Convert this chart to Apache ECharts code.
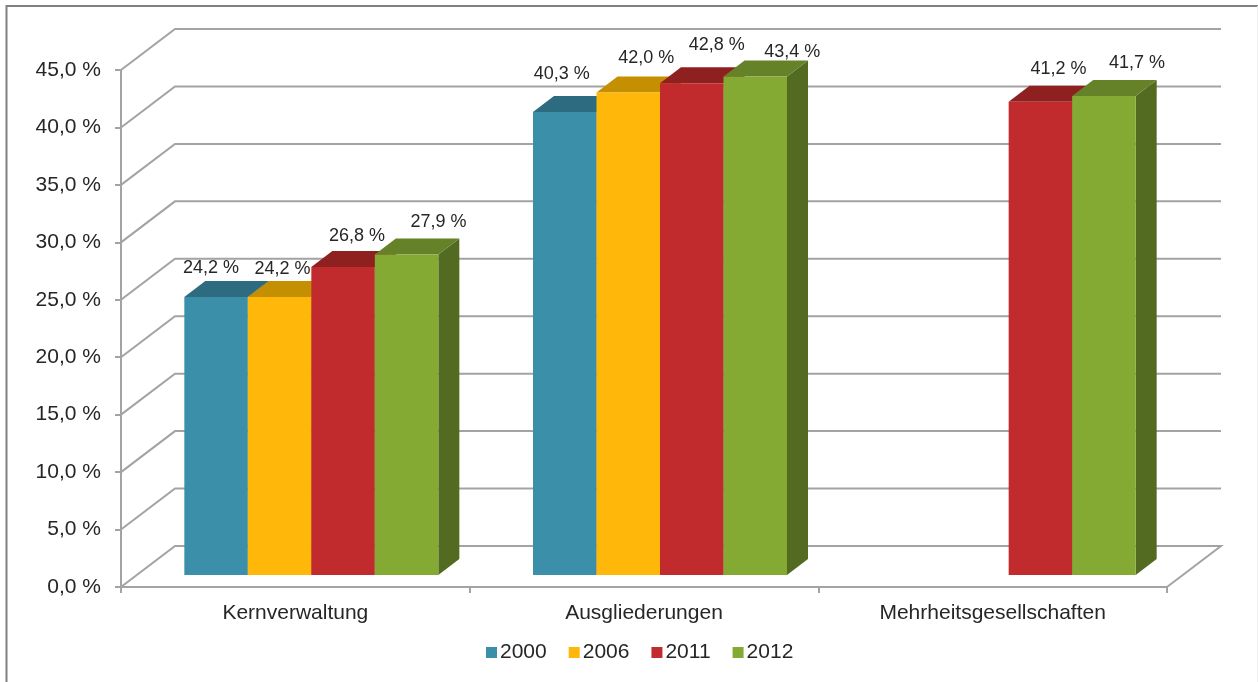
<!DOCTYPE html>
<html>
<head>
<meta charset="utf-8">
<style>html,body{margin:0;padding:0;background:#fff}#c{width:1258px;height:682px}</style>
<script src="https://cdn.jsdelivr.net/npm/echarts@6/dist/echarts.min.js"></script>
</head>
<body>
<div id="c"></div>
<script>
var categories = ['Kernverwaltung', 'Ausgliederungen', 'Mehrheitsgesellschaften'];
var years = ['2000', '2006', '2011', '2012'];
var values2000 = [24.2, 40.3, null];
var values2006 = [24.2, 42.0, null];
var values2011 = [26.8, 42.8, 41.2];
var values2012 = [27.9, 43.4, 41.7];
var yTicks = [0, 5, 10, 15, 20, 25, 30, 35, 40, 45];

var labelNudge = {
  '2000': [[-5, -29], [-3, -38], null],
  '2006': [[3, -28], [18, -34], null],
  '2011': [[14, -31], [25, -38], [18, -33]],
  '2012': [[32, -32], [37, -24], [33, -33]]
};
var faces = [
  {front: '#3b8fa8', top: '#2c6b80', side: '#25596b'},
  {front: '#ffb80a', top: '#c48f00', side: '#a87a00'},
  {front: '#c22b2e', top: '#8f2020', side: '#7a1b1b'},
  {front: '#84aa33', top: '#668228', side: '#536a21'}
];
var FONT = '"Liberation Sans", Arial, sans-serif';
var TEXT = '#262626';
var GRID = '#a3a3a3';
var WALL_DX = 54, WALL_DY = 41;
var BAR_W = 63.5, BAR_DX = 21, BAR_DY = 16, BAR_FX = 16, BAR_FY = 12;

function fmt(v) { return v.toFixed(1).replace('.', ',') + ' %'; }

function wallItem(params, api) {
  var v = api.value(0);
  var p = api.coord([0, v]);
  var cs = params.coordSys;
  var x0 = cs.x, x1 = cs.x + cs.width, y = p[1];
  var lineStyle = {stroke: GRID, lineWidth: 2, fill: null};
  var pts = [[x0, y], [x0 + WALL_DX, y - WALL_DY], [x1 + WALL_DX, y - WALL_DY]];
  if (v === 0) pts.push([x1, y]);
  return {type: 'polyline', shape: {points: pts}, style: lineStyle, silent: true};
}

function barRender(idx) {
  return function (params, api) {
    var cat = api.value(0), v = api.value(1);
    if (v == null || isNaN(v)) return null;
    var base = api.coord([cat, 0]);
    var topP = api.coord([cat, v]);
    var x = base[0] + BAR_FX + (idx - 2) * BAR_W;
    var y0 = base[1] - BAR_FY;
    var y1 = topP[1] - BAR_FY;
    var c = faces[idx];
    var w = BAR_W, dx = BAR_DX, dy = BAR_DY;
    var nudge = labelNudge[years[idx]][cat];
    return {type: 'group', children: [
      {type: 'polygon', shape: {points: [[x + w, y1], [x + w + dx, y1 - dy], [x + w + dx, y0 - dy], [x + w, y0]]}, style: {fill: c.side}},
      {type: 'polygon', shape: {points: [[x, y1], [x + dx, y1 - dy], [x + w + dx, y1 - dy], [x + w, y1]]}, style: {fill: c.top}},
      {type: 'rect', shape: {x: x, y: y1, width: w, height: y0 - y1}, style: {fill: c.front}},
      {type: 'text', z2: 100, style: {x: x + w / 2 + nudge[0], y: y1 + nudge[1], text: fmt(v), align: 'center', verticalAlign: 'middle', fill: TEXT, font: '18px ' + FONT}}
    ]};
  };
}

var allValues = [values2000, values2006, values2011, values2012];
var series = [{
  type: 'custom', name: 'walls', silent: true, z: 1,
  coordinateSystem: 'cartesian2d',
  renderItem: wallItem,
  encode: {y: 0},
  data: yTicks.map(function (t) { return [t]; })
}];
years.forEach(function (y, i) {
  series.push({
    type: 'custom', name: y, z: 2 + i,
    coordinateSystem: 'cartesian2d',
    renderItem: barRender(i),
    itemStyle: {color: faces[i].front},
    encode: {x: 0, y: 1},
    clip: false,
    data: allValues[i].map(function (v, c) { return [c, v]; })
  });
});

var chart = echarts.init(document.getElementById('c'), null, {renderer: 'canvas'});
chart.setOption({
  backgroundColor: '#fff',
  animation: false,
  graphic: [{
    type: 'polyline', silent: true, z: -1,
    shape: {points: [[6.5, 682], [6.5, 6], [1258, 6]]},
    style: {stroke: '#808080', lineWidth: 2, fill: null}
  }, {
    type: 'line', silent: true, z: -1,
    shape: {x1: 1257.5, y1: 6, x2: 1257.5, y2: 682},
    style: {stroke: '#eeeeee', lineWidth: 1}
  }],
  grid: {left: 121, right: 91, top: 70, bottom: 95, containLabel: false},
  legend: {
    data: years, left: 481, top: 637, itemWidth: 11, itemHeight: 11, itemGap: 22,
    icon: 'rect',
    textStyle: {fontFamily: FONT, fontSize: 21, color: TEXT, padding: [0, 0, 0, -2]}
  },
  xAxis: {
    type: 'category', data: categories,
    axisLine: {lineStyle: {color: GRID, width: 2}},
    axisTick: {show: true, length: 6, lineStyle: {color: GRID, width: 2}},
    axisLabel: {fontFamily: FONT, fontSize: 21, color: TEXT, margin: 16}
  },
  yAxis: {
    type: 'value', min: 0, max: 45, interval: 5,
    axisLine: {show: true, lineStyle: {color: GRID, width: 2}},
    axisTick: {show: true, length: 6, lineStyle: {color: GRID, width: 2}},
    splitLine: {show: false},
    axisLabel: {
      fontFamily: FONT, fontSize: 21, color: TEXT, margin: 20, padding: [2, 0, 0, 0],
      formatter: function (v) { return fmt(v); }
    }
  },
  series: series
});
</script>
</body>
</html>
